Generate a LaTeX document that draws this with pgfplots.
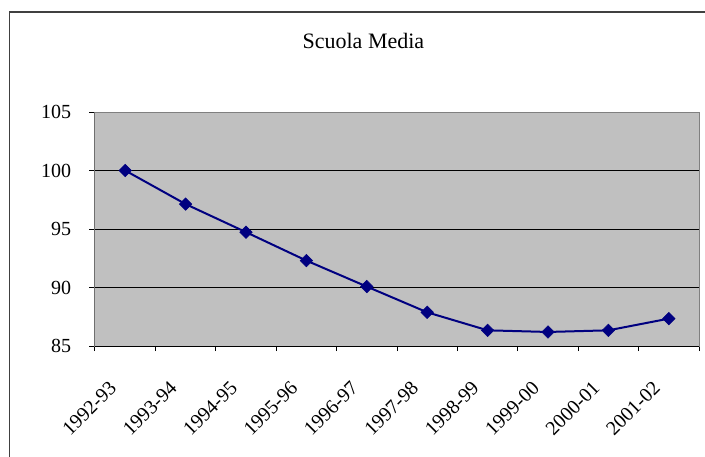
\documentclass[border=0pt]{standalone}
\usepackage{fontspec}
\setmainfont{Liberation Serif}
\usepackage{pgfplots}
\usepackage{pgfplotstable}
\pgfplotsset{compat=1.18}

\definecolor{plotgray}{RGB}{192,192,192}
\definecolor{framegray}{RGB}{128,128,128}
\definecolor{navyline}{RGB}{0,0,128}

% indice (1992-93 = 100)
\pgfplotstableread{
x    val
0.5  100.0
1.5  97.13
2.5  94.73
3.5  92.30
4.5  90.08
5.5  87.88
6.5  86.34
7.5  86.20
8.5  86.34
9.5  87.34
}\medie

\begin{document}
\begin{tikzpicture}
\useasboundingbox (0,0) rectangle (352.5pt,228pt);
% chart area frame (only left and top edges fall inside the picture)
\draw[black!75, line width=0.6pt] (4.67pt,-10pt) -- (4.67pt,222pt) -- (400pt,222pt);
\node[font=\fontsize{11}{13}\selectfont, anchor=base] at (181.7pt,203.5pt) {Scuola Media};
\begin{axis}[
    at={(47.5pt,55pt)}, anchor=south west,
    scale only axis,
    width=302pt, height=117pt,
    xmin=0, xmax=10,
    ymin=85, ymax=105,
    axis background/.style={fill=plotgray},
    axis line style={framegray, line width=0.5pt},
    xtick={0.5,1.5,...,9.5},
    xticklabels={1992-93,1993-94,1994-95,1995-96,1996-97,1997-98,1998-99,1999-00,2000-01,2001-02},
    minor xtick={0,1,...,10},
    major x tick style={draw=none},
    minor x tick style={black, line width=0.5pt},
    ytick={85,90,...,105},
    ytick pos=left,
    xtick pos=bottom,
    tick align=outside,
    major tick length=2.85pt,
    minor tick length=2.5pt,
    y tick style={black, line width=0.5pt},
    ymajorgrids=true,
    major grid style={black, line width=0.5pt},
    ticklabel style={font=\fontsize{10}{12}\selectfont},
    /pgf/number format/assume math mode=true,
    yticklabel style={xshift=-5.5pt},
    xticklabel style={xshift=-6pt, yshift=-16.5pt, rotate=45, anchor=east, inner sep=0pt},
]
\addplot[navyline, line width=1pt, mark=square*, mark size=2.2pt,
         mark options={rotate=45, fill=navyline, draw=navyline, line width=0.3pt}]
    table[x=x, y=val] {\medie};
\draw[black, line width=0.5pt] (rel axis cs:0,1) -- (rel axis cs:0,0) -- (rel axis cs:1,0);
\end{axis}
\end{tikzpicture}
\end{document}
